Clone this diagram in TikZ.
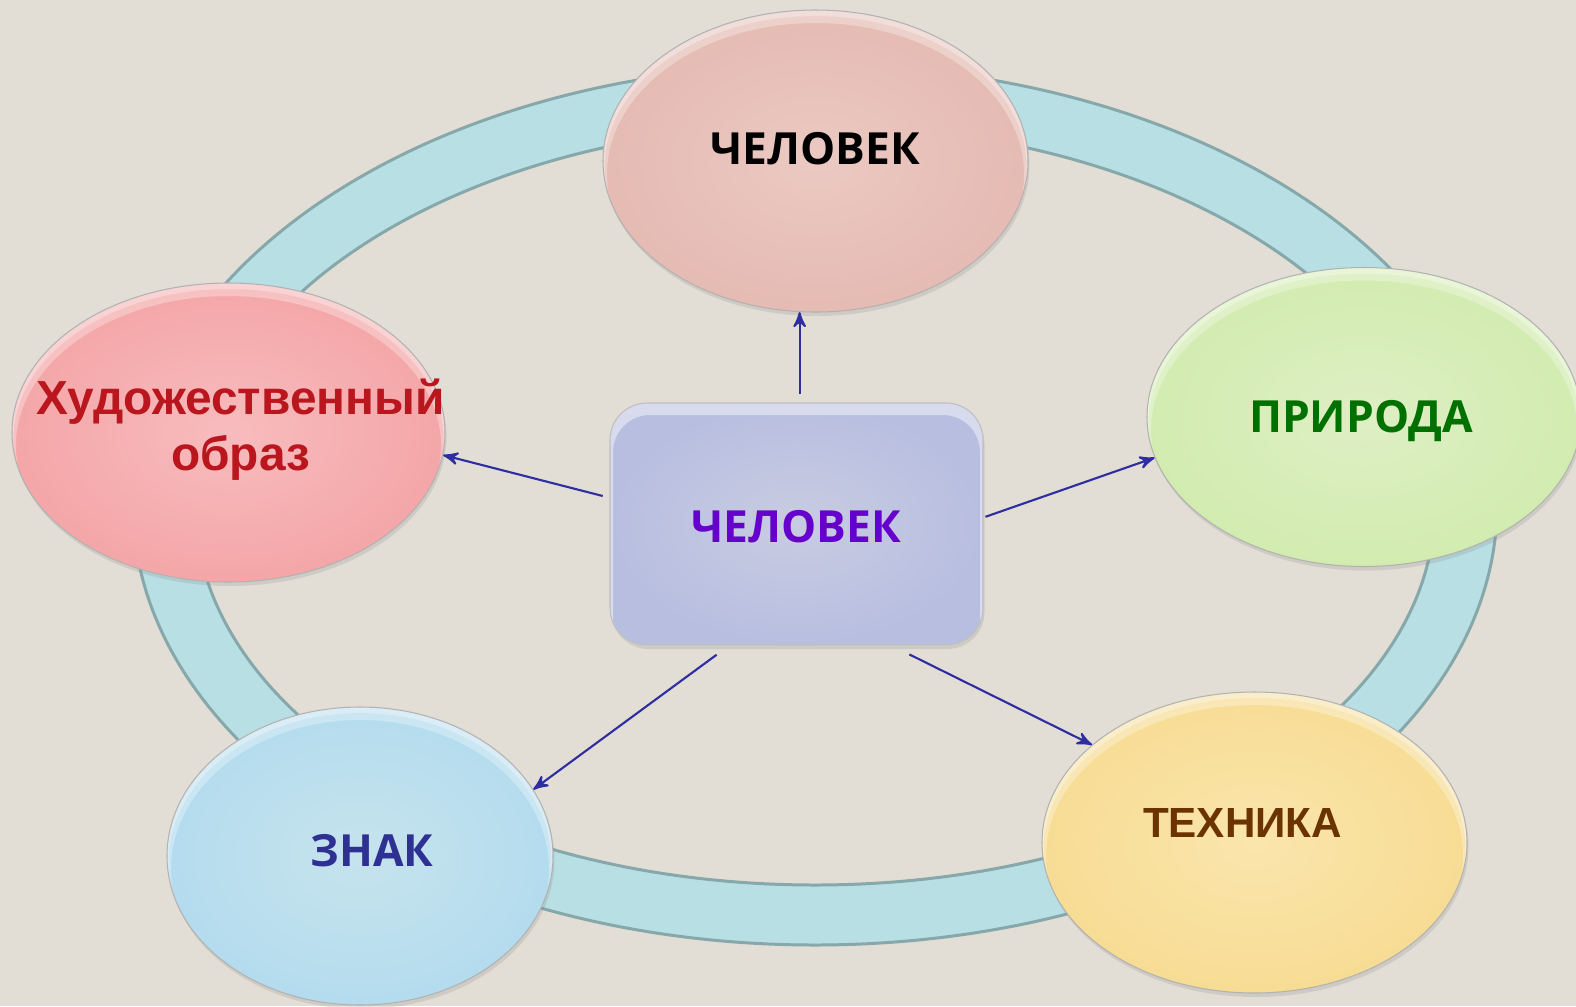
\documentclass[tikz,border=0pt]{standalone}
\usepackage{fontspec}
\newfontfamily\osans{Open Sans}
\newfontfamily\lsans{Liberation Sans}
\usetikzlibrary{arrows,shapes,shadows}

\definecolor{bgpaper}{RGB}{226,222,213}
\definecolor{ringfill}{RGB}{184,223,227}
\definecolor{ringline}{RGB}{134,168,170}
\definecolor{linkblue}{RGB}{46,46,160}
\definecolor{topin}{RGB}{235,201,194}
\definecolor{topout}{RGB}{229,187,179}
\definecolor{hudin}{RGB}{248,188,190}
\definecolor{hudout}{RGB}{244,166,168}
\definecolor{pririn}{RGB}{222,239,196}
\definecolor{prirout}{RGB}{210,236,176}
\definecolor{znakin}{RGB}{198,227,237}
\definecolor{znakout}{RGB}{180,220,238}
\definecolor{tekhin}{RGB}{250,229,172}
\definecolor{tekhout}{RGB}{247,220,148}
\definecolor{ctrin}{RGB}{200,204,226}
\definecolor{ctrout}{RGB}{184,190,224}
\definecolor{hudtext}{RGB}{186,22,30}
\definecolor{prirtext}{RGB}{0,112,0}
\definecolor{znaktext}{RGB}{46,49,146}
\definecolor{tekhtext}{RGB}{107,51,0}
\definecolor{ctrtext}{RGB}{102,0,204}

\begin{document}
\begin{tikzpicture}[>=stealth',
    gloss/.style 2 args={path picture={
      \fill[white,opacity=0.3,even odd rule]
        (path picture bounding box.south west) rectangle (path picture bounding box.north east)
        ([yshift=-0.13cm]path picture bounding box.center) ellipse [x radius=#1-0.04cm,y radius=#2];
      \fill[white,opacity=0.3,even odd rule]
        (path picture bounding box.south west) rectangle (path picture bounding box.north east)
        ([yshift=-0.06cm]path picture bounding box.center) ellipse [x radius=#1-0.015cm,y radius=#2];}},
    hub gloss/.style={path picture={
      \fill[white,opacity=0.45,even odd rule]
        (path picture bounding box.south west) rectangle (path picture bounding box.north east)
        [rounded corners=0.37cm] ([xshift=0.03cm,yshift=-0.12cm]path picture bounding box.south west)
        rectangle ([xshift=-0.03cm,yshift=-0.12cm]path picture bounding box.north east);}}]
  \tikzstyle{place}=[ellipse,draw=black!30,line width=0.3pt,inner sep=0pt,
                     drop shadow={opacity=0.2,shadow xshift=0.015cm,shadow yshift=-0.04cm}]
  \tikzstyle{hub}=[rectangle,rounded corners=0.37cm,draw=black!25,line width=0.3pt,inner sep=0pt,
                   drop shadow={opacity=0.2,shadow xshift=0.015cm,shadow yshift=-0.04cm}]
  \tikzstyle{word}=[font=\osans\bfseries\fontsize{12.6}{15}\selectfont]
  \tikzstyle{arial word}=[font=\lsans\bfseries\fontsize{13.6}{16}\selectfont]
  \tikzstyle{link}=[->,draw=linkblue,line width=0.6pt]
  \tikzstyle{every label}=[inner sep=0pt,align=center]

  \fill[bgpaper] (0,0) rectangle (15.76,10.06);
  \useasboundingbox (0,0) rectangle (15.76,10.06);

  \fill[ringfill,even odd rule] (8.15,5.01) ellipse [x radius=6.82,y radius=4.40]
                                (8.15,5.01) ellipse [x radius=6.20,y radius=3.80];
  \draw[ringline,line width=0.85pt] (8.15,5.01) ellipse [x radius=6.82,y radius=4.40];
  \draw[ringline,line width=0.85pt] (8.15,5.01) ellipse [x radius=6.20,y radius=3.80];

  \node [place,minimum width=4.25cm,minimum height=3.02cm,inner color=topin,outer color=topout,
         gloss={2.125cm}{1.51cm},
         label={[word,text=black,yshift=0.12cm]center:ЧЕЛОВЕК}] (top) at (8.155,8.45) {};
  \node [place,minimum width=4.33cm,minimum height=2.99cm,inner color=hudin,outer color=hudout,
         gloss={2.165cm}{1.495cm},
         label={[arial word,text=hudtext,xshift=0.12cm,yshift=0.03cm]center:{Художественный\\образ}}] (hud) at (2.285,5.735) {};
  \node [place,minimum width=4.34cm,minimum height=2.99cm,inner color=pririn,outer color=prirout,
         gloss={2.17cm}{1.495cm},
         label={[word,text=prirtext,xshift=-0.03cm,yshift=-0.04cm]center:ПРИРОДА}] (prir) at (13.64,5.89) {};
  \node [place,minimum width=3.86cm,minimum height=2.98cm,inner color=znakin,outer color=znakout,
         gloss={1.93cm}{1.49cm},
         label={[word,text=znaktext,xshift=0.12cm,yshift=0.05cm]center:ЗНАК}] (znak) at (3.60,1.50) {};
  \node [place,minimum width=4.25cm,minimum height=3.01cm,inner color=tekhin,outer color=tekhout,
         gloss={2.125cm}{1.505cm},
         label={[arial word,font=\lsans\bfseries\fontsize{12}{14}\selectfont,text=tekhtext,xshift=-0.12cm,yshift=0.2cm]center:ТЕХНИКА}] (tekh) at (12.545,1.635) {};
  \node [hub,minimum width=3.73cm,minimum height=2.42cm,inner color=ctrin,outer color=ctrout,hub gloss,
         label={[word,text=ctrtext,yshift=-0.025cm]center:ЧЕЛОВЕК}] (ctr) at (7.965,4.82) {};

  \draw[link,shorten <=0.08cm] (ctr.north -| top.-96.75) -- (top.-96.75);
  \draw[link,shorten <=0.07cm] (ctr.172.9) -- (hud.-6.67);
  \draw[link,shorten <=0.02cm] (ctr.2.24) -- (prir.191.26);
  \draw[link,shorten <=0.155cm] (ctr.-119.05) -- (znak.21.9);
  \draw[link,shorten <=0.2cm] (ctr.-52.28) -- (tekh.149.14);
\end{tikzpicture}
\end{document}
